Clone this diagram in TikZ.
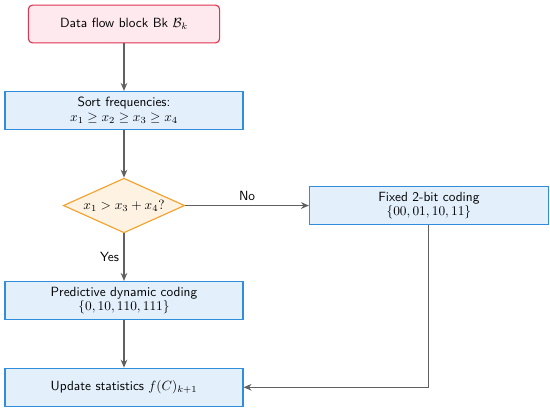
\documentclass[tikz,border=0pt]{standalone}
\usepackage{amsmath}
\usetikzlibrary{arrows.meta, positioning, shapes.geometric}

\definecolor{startred}{HTML}{E0334F}
\definecolor{startfill}{HTML}{FDE9EE}
\definecolor{procblue}{HTML}{2F8DDB}
\definecolor{procfill}{HTML}{E3F0FC}
\definecolor{decorange}{HTML}{F5A02A}
\definecolor{decfill}{HTML}{FEF3E3}
\definecolor{flowgray}{HTML}{606060}

\begin{document}
\begin{tikzpicture}[
    node distance=35.6pt and 92.8pt,
    startbox/.style={rectangle, rounded corners=3pt, draw=startred, fill=startfill, line width=0.85pt,
        minimum width=143.4pt, minimum height=28.3pt, font=\sffamily, align=center},
    procbox/.style={rectangle, draw=procblue, fill=procfill, line width=0.85pt,
        minimum width=178.5pt, minimum height=28.6pt, font=\sffamily, align=center, inner sep=2pt},
    decision/.style={diamond, draw=decorange, fill=decfill, line width=0.85pt, aspect=2.2,
        minimum width=91pt, minimum height=41pt, inner sep=0pt, font=\sffamily},
    flow/.style={->, >={Stealth[length=6pt, width=5pt]}, line width=0.9pt, draw=flowgray},
    flowlabel/.style={font=\sffamily, text=black}
]

    % Define Nodes
    \node[startbox] (block) at (93pt,-18pt) {Data flow block Bk $\mathcal{B}_k$};
    \node[procbox]  (sort) [below=of block] {Sort frequencies:\\[-1pt] $x_1 \geq x_2 \geq x_3 \geq x_4$};
    \node[decision] (test) [below=of sort] {$x_1 > x_3 + x_4?$};
    \node[procbox]  (fixed) [right=of test, minimum width=179pt, minimum height=29pt]
        {Fixed 2-bit coding\\[-1pt] $\{00, 01, 10, 11\}$};
    \node[procbox]  (predict) [below=of test] {Predictive dynamic coding\\[-1pt] $\{0, 10, 110, 111\}$};
    \node[procbox]  (update) [below=of predict] {Update statistics $f(C)_{k+1}$};

    % Draw Edges
    \draw[flow] (block) -- (sort);
    \draw[flow] (sort) -- (test);
    \draw[flow] (test) -- node[flowlabel, above] {No} (fixed);
    \draw[flow] (test) -- node[flowlabel, left] {Yes} (predict);
    \draw[flow] (predict) -- (update);
    \draw[flow] (fixed) |- (update);

    \useasboundingbox (0pt,0pt) rectangle (412.5pt,-306pt);
\end{tikzpicture}
\end{document}
